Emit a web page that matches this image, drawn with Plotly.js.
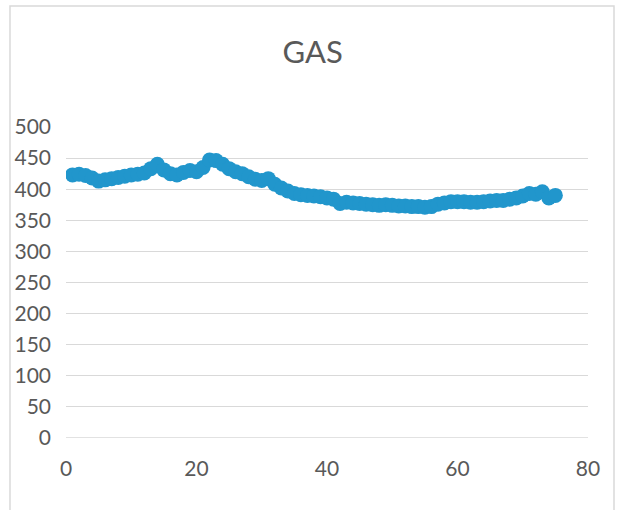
<!DOCTYPE html>
<html>
<head>
<meta charset="utf-8">
<script src="https://cdn.plot.ly/plotly-3.0.1.min.js"></script>
<style>
html,body{margin:0;padding:0;background:#fff;}
#chart{width:618px;height:510px;}
</style>
</head>
<body>
<div id="chart"></div>
<script>
var xValues = [1,2,3,4,5,6,7,8,9,10,11,12,13,14,15,16,17,18,19,20,21,22,23,24,25,26,27,28,29,30,31,32,33,34,35,36,37,38,39,40,41,42,43,44,45,46,47,48,49,50,51,52,53,54,55,56,57,58,59,60,61,62,63,64,65,66,67,68,69,70,71,72,73,74,75];
var gasValues = [423,424,422,418,413,415,417,419,421,423,424,426,433,440,431,425,423,427,430,428,435,447,446,440,433,428,425,420,416,414,417,408,402,397,393,391,390,389,388,386,384,377,379,378,377,376,375,374,375,374,373,373,372,372,371,372,376,378,380,380,380,379,379,380,381,382,382,384,386,389,393,392,396,386,390];
var yTicks = [0,50,100,150,200,250,300,350,400,450,500];
var xTicks = [0,20,40,60,80];

var fontFam = 'Lato, "Open Sans", sans-serif';
var trace = {
  x: xValues, y: gasValues, type: 'scatter', mode: 'lines+markers',
  line: {color: '#2196cc', width: 9},
  marker: {color: '#2196cc', size: 15},
  hoverinfo: 'x+y'
};
var layout = {
  width: 618, height: 510,
  margin: {l: 66, r: 30, t: 127, b: 72},
  paper_bgcolor: '#fff', plot_bgcolor: '#fff',
  showlegend: false,
  title: {text: 'GAS', font: {family: fontFam, size: 31, color: '#595959'}, x: 0.506, xanchor: 'center', y: 0.898, yanchor: 'middle', yref: 'container'},
  xaxis: {range: [0, 80], tickvals: xTicks, showgrid: false, zeroline: false, showline: false,
          ticks: '', ticklabelstandoff: 16, tickfont: {family: fontFam, size: 21, color: '#595959'}},
  yaxis: {range: [0, 500], tickvals: yTicks, showgrid: true, gridcolor: '#d9d9d9', gridwidth: 1,
          zeroline: false, showline: false, ticks: '', ticklabelstandoff: 14,
          tickfont: {family: fontFam, size: 21, color: '#595959'}},
  shapes: [
    {type: 'line', xref: 'paper', yref: 'y', x0: 0, x1: 1, y0: 0, y1: 0, line: {color: '#d9d9d9', width: 1.5}},
    {type: 'rect', xref: 'paper', yref: 'paper', x0: -0.1073, x1: 1.0498, y0: -0.26, y1: 1.389,
     line: {color: '#d9d9d9', width: 1.5}, fillcolor: 'rgba(0,0,0,0)', layer: 'below'}
  ]
};
Plotly.newPlot('chart', [trace], layout, {displayModeBar: false, staticPlot: true});
</script>
</body>
</html>
